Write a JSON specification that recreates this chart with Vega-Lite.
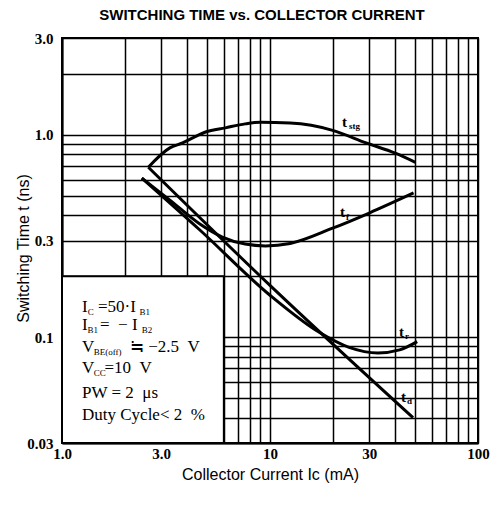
{
  "$schema": "https://vega.github.io/schema/vega-lite/v6.json",
  "width": 416,
  "height": 405,
  "autosize": "none",
  "padding": {"left": 62, "top": 38, "right": 14, "bottom": 63},
  "background": "white",
  "title": {"text": "SWITCHING TIME vs. COLLECTOR CURRENT", "font": "Liberation Sans", "fontSize": 15, "fontWeight": "bold", "color": "#000", "anchor": "middle", "baseline": "bottom", "offset": -7, "dx": -8},
  "config": {"view": {"stroke": "#000", "strokeWidth": 2}},
  "datasets": {
    "curves": [
      {"series": "tstg", "x": 2.6, "y": 0.69},
      {"series": "tstg", "x": 3.3, "y": 0.86},
      {"series": "tstg", "x": 3.8, "y": 0.91},
      {"series": "tstg", "x": 4.3, "y": 0.97},
      {"series": "tstg", "x": 4.9, "y": 1.03},
      {"series": "tstg", "x": 6.1, "y": 1.08},
      {"series": "tstg", "x": 7.6, "y": 1.13},
      {"series": "tstg", "x": 9.0, "y": 1.15},
      {"series": "tstg", "x": 12.5, "y": 1.14},
      {"series": "tstg", "x": 20, "y": 1.05},
      {"series": "tstg", "x": 29, "y": 0.91},
      {"series": "tstg", "x": 40, "y": 0.81},
      {"series": "tstg", "x": 50, "y": 0.73},
      {"series": "tf", "x": 2.42, "y": 0.61},
      {"series": "tf", "x": 3.3, "y": 0.475},
      {"series": "tf", "x": 4.6, "y": 0.362},
      {"series": "tf", "x": 5.9, "y": 0.312},
      {"series": "tf", "x": 7.6, "y": 0.288},
      {"series": "tf", "x": 9.5, "y": 0.282},
      {"series": "tf", "x": 12.5, "y": 0.29},
      {"series": "tf", "x": 20, "y": 0.345},
      {"series": "tf", "x": 30, "y": 0.41},
      {"series": "tf", "x": 49, "y": 0.515},
      {"series": "td", "x": 2.6, "y": 0.69},
      {"series": "td", "x": 10, "y": 0.18},
      {"series": "td", "x": 48.7, "y": 0.04},
      {"series": "tr", "x": 2.42, "y": 0.61},
      {"series": "tr", "x": 4.6, "y": 0.338},
      {"series": "tr", "x": 10, "y": 0.161},
      {"series": "tr", "x": 17.4, "y": 0.105},
      {"series": "tr", "x": 24, "y": 0.089},
      {"series": "tr", "x": 33, "y": 0.0835},
      {"series": "tr", "x": 42, "y": 0.0865},
      {"series": "tr", "x": 51, "y": 0.095}
    ],
    "box": [{"x": 1, "x2": 6, "y": 0.03, "y2": 0.2}],
    "notesMain": [
      {"t": "I", "x": 1.248, "y": 0.1331},
      {"t": "=50·I", "x": 1.49, "y": 0.1331},
      {"t": "I", "x": 1.248, "y": 0.1084},
      {"t": "=\u00a0\u00a0−\u00a0I", "x": 1.523, "y": 0.1084},
      {"t": "V", "x": 1.248, "y": 0.0845},
      {"t": "≒ −2.5\u00a0\u00a0V", "x": 2.123, "y": 0.0845},
      {"t": "V", "x": 1.248, "y": 0.0665},
      {"t": "=10\u00a0\u00a0V", "x": 1.6, "y": 0.0665},
      {"t": "PW = 2\u00a0\u00a0μs", "x": 1.248, "y": 0.0501},
      {"t": "Duty Cycle<\u00a02\u00a0\u00a0%", "x": 1.248, "y": 0.039}
    ],
    "notesSub": [
      {"t": "C", "x": 1.33, "y": 0.1287},
      {"t": "B1", "x": 2.36, "y": 0.1287},
      {"t": "B1", "x": 1.326, "y": 0.1049},
      {"t": "B2", "x": 2.42, "y": 0.1049},
      {"t": "BE(off)", "x": 1.42, "y": 0.0816},
      {"t": "CC", "x": 1.42, "y": 0.0643}
    ],
    "curveMain": [
      {"t": "t", "x": 22.2, "y": 1.09},
      {"t": "t", "x": 21.7, "y": 0.392},
      {"t": "t", "x": 41.7, "y": 0.1001},
      {"t": "t", "x": 42.6, "y": 0.0478}
    ],
    "curveSub": [
      {"t": "stg", "x": 24.0, "y": 1.07},
      {"t": "f", "x": 23.2, "y": 0.379},
      {"t": "r", "x": 44.6, "y": 0.098},
      {"t": "d", "x": 45.6, "y": 0.0467}
    ]
  },
  "encoding": {
    "x": {
      "field": "x", "type": "quantitative",
      "scale": {"type": "log", "domain": [1, 100], "nice": false},
      "axis": {
        "values": [1, 2, 3, 4, 5, 6, 7, 8, 9, 10, 20, 30, 40, 50, 60, 70, 80, 90, 100],
        "labelExpr": "datum.value==1?'1.0':datum.value==3?'3.0':datum.value==10?'10':datum.value==30?'30':datum.value==100?'100':''",
        "title": "Collector Current  Ic (mA)",
        "ticks": false, "labelPadding": 3, "labelFlush": false, "labelOverlap": false, "labelBound": false,
        "grid": true, "gridColor": "#000", "gridWidth": 1.5, "gridOpacity": 1,
        "domainColor": "#000", "domainWidth": 2,
        "labelFont": "Liberation Serif", "labelFontSize": 15, "labelFontWeight": "bold", "labelColor": "#000",
        "titleFont": "Liberation Sans", "titleFontSize": 16, "titleFontWeight": "normal", "titleColor": "#000", "titlePadding": 5
      }
    },
    "y": {
      "field": "y", "type": "quantitative",
      "scale": {"type": "log", "domain": [0.03, 3], "nice": false},
      "axis": {
        "values": [0.03, 0.04, 0.05, 0.06, 0.07, 0.08, 0.09, 0.1, 0.2, 0.3, 0.4, 0.5, 0.6, 0.7, 0.8, 0.9, 1, 2, 3],
        "labelExpr": "datum.value==0.03?'0.03':datum.value==0.1?'0.1':datum.value==0.3?'0.3':datum.value==1?'1.0':datum.value==3?'3.0':''",
        "title": "Switching Time  t (ns)",
        "ticks": false, "labelPadding": 9, "labelFlush": false, "labelOverlap": false, "labelBound": false,
        "grid": true, "gridColor": "#000", "gridWidth": 1.5, "gridOpacity": 1,
        "domainColor": "#000", "domainWidth": 2,
        "labelFont": "Liberation Serif", "labelFontSize": 15, "labelFontWeight": "bold", "labelColor": "#000",
        "titleFont": "Liberation Sans", "titleFontSize": 16, "titleFontWeight": "normal", "titleColor": "#000",
        "titleX": -39, "titleY": 210, "titleAngle": -90, "titleAlign": "center", "titleBaseline": "middle"
      }
    }
  },
  "layer": [
    {
      "data": {"name": "box"},
      "mark": {"type": "rect", "fill": "white", "stroke": "#000", "strokeWidth": 2},
      "encoding": {"x2": {"field": "x2"}, "y2": {"field": "y2"}}
    },
    {
      "data": {"name": "curves"},
      "mark": {"type": "line", "color": "#000", "strokeWidth": 3, "interpolate": "monotone"},
      "encoding": {"detail": {"field": "series"}}
    },
    {
      "data": {"name": "notesMain"},
      "mark": {"type": "text", "align": "left", "baseline": "alphabetic", "font": "Liberation Serif", "fontSize": 17, "color": "#000"},
      "encoding": {"text": {"field": "t"}}
    },
    {
      "data": {"name": "notesSub"},
      "mark": {"type": "text", "align": "left", "baseline": "alphabetic", "font": "Liberation Serif", "fontSize": 9, "color": "#000"},
      "encoding": {"text": {"field": "t"}}
    },
    {
      "data": {"name": "curveMain"},
      "mark": {"type": "text", "align": "left", "baseline": "alphabetic", "font": "Liberation Serif", "fontSize": 15, "fontWeight": "bold", "color": "#000"},
      "encoding": {"text": {"field": "t"}}
    },
    {
      "data": {"name": "curveSub"},
      "mark": {"type": "text", "align": "left", "baseline": "alphabetic", "font": "Liberation Serif", "fontSize": 9, "fontWeight": "bold", "color": "#000"},
      "encoding": {"text": {"field": "t"}}
    }
  ]
}
